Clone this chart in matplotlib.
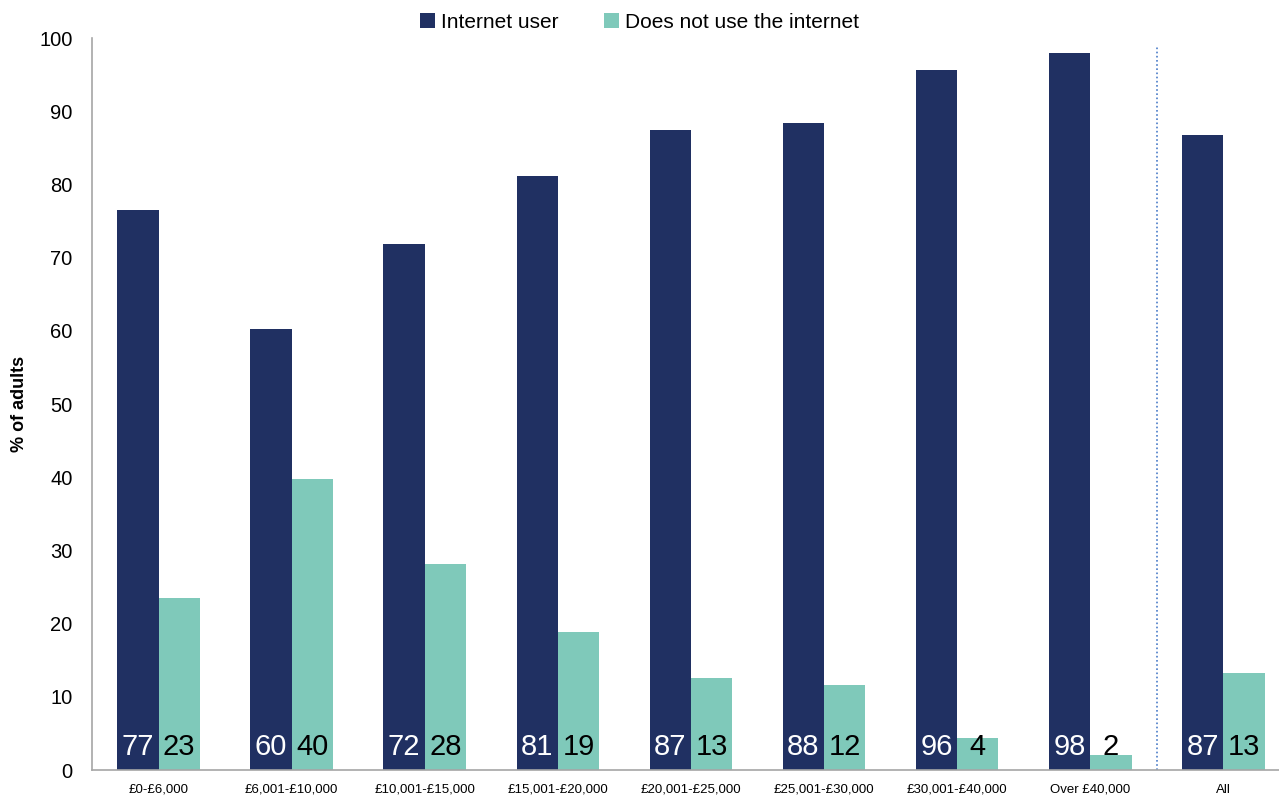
import matplotlib
matplotlib.use('Agg')
import matplotlib.pyplot as plt
import numpy as np

plt.rcParams['font.family'] = ['Liberation Sans', 'DejaVu Sans']

# Household income bands
categories = ["£0-£6,000", "£6,001-£10,000", "£10,001-£15,000", "£15,001-£20,000",
              "£20,001-£25,000", "£25,001-£30,000", "£30,001-£40,000",
              "Over £40,000", "All"]
internet_user = [76.5, 60.2, 71.8, 81.2, 87.4, 88.4, 95.6, 98.0, 86.7]
non_user = [23.5, 39.8, 28.2, 18.8, 12.6, 11.6, 4.4, 2.0, 13.3]
user_labels = ["77", "60", "72", "81", "87", "88", "96", "98", "87"]
non_user_labels = ["23", "40", "28", "19", "13", "12", "4", "2", "13"]

NAVY = "#203062"
TEAL = "#7fc9ba"
GREY = "#a6a6a6"

W, H = 1279, 796
ax_left, ax_w = 92, 9 * 133.1
fig = plt.figure(figsize=(W / 100, H / 100), dpi=100)
ax = fig.add_axes([ax_left / W, 26 / H, ax_w / W, 732 / H])

x = np.arange(len(categories))
w = 0.31
b1 = ax.bar(x - w / 2, internet_user, w, color=NAVY, label="Internet user")
b2 = ax.bar(x + w / 2, non_user, w, color=TEAL, label="Does not use the internet")

# value labels sit at the foot of each bar
for xi, lab in zip(x, user_labels):
    ax.annotate(lab, (xi - w / 2, 0), xytext=(0, 11), textcoords="offset points",
                ha="center", va="baseline", fontsize=21, color="white")
for xi, lab in zip(x, non_user_labels):
    ax.annotate(lab, (xi + w / 2, 0), xytext=(0, 11), textcoords="offset points",
                ha="center", va="baseline", fontsize=21, color="black")

# separator before the "All" group
ax.axvline(len(categories) - 1.5, ymin=0, ymax=0.99, color="#4a7cc8",
           linestyle=(0, (1, 1.5)), linewidth=1.2)

ax.set_xlim(-0.5, len(categories) - 0.5)
ax.set_ylim(0, 100)
ax.set_yticks(range(0, 101, 10))
ax.set_xticks(x)
ax.set_xticklabels(categories, fontsize=9.5)
ax.tick_params(axis="y", length=0, labelsize=14.5, pad=14)
ax.tick_params(axis="x", length=0, pad=10)
for side in ("top", "right"):
    ax.spines[side].set_visible(False)
for side in ("left", "bottom"):
    ax.spines[side].set_color(GREY)
    ax.spines[side].set_linewidth(1.2)

ax.set_ylabel("% of adults", fontsize=13, fontweight="bold")
ax.yaxis.set_label_coords((28 - ax_left) / ax_w, 0.5)

fig.legend(handles=[b1, b2], loc="center", bbox_to_anchor=(0.5, 1 - 22 / H),
           ncol=2, frameon=False, fontsize=15, handlelength=0.7, handleheight=0.7,
           handletextpad=0.3, columnspacing=2.2)

fig.savefig("out.png", dpi=100)
